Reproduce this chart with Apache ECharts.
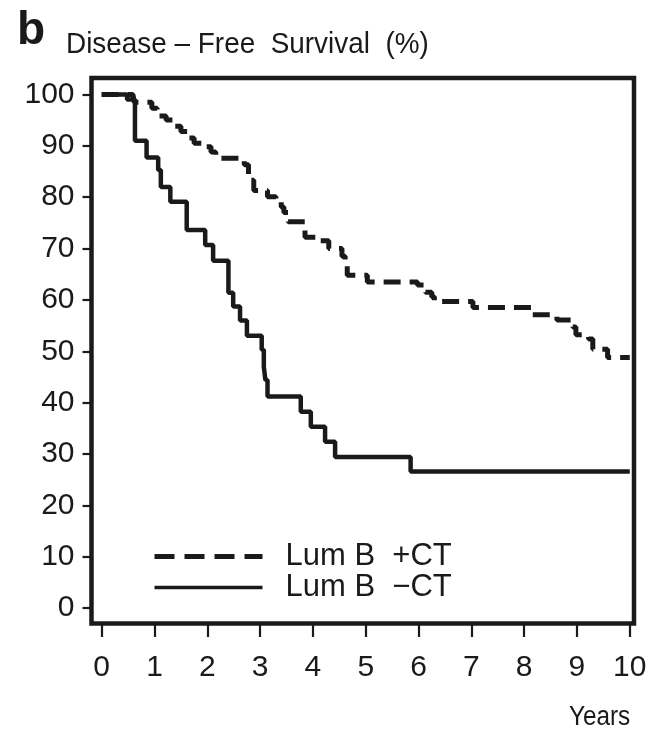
<!DOCTYPE html>
<html>
<head>
<meta charset="utf-8">
<script src="https://cdn.jsdelivr.net/npm/echarts@6/dist/echarts.min.js"></script>
<style>html,body{margin:0;padding:0;background:#fff}#c{width:650px;height:732px}</style>
</head>
<body>
<div id="c"></div>
<script>
// Kaplan-Meier: Lum B +CT (dashed)
var timesPlus = [0, 0.59, 0.62, 0.95, 1.05, 1.22, 1.38, 1.50, 1.62, 1.75, 1.90, 2.07, 2.16, 2.70, 2.78, 2.83, 2.88, 3.14, 3.30, 3.40, 3.45, 3.53, 3.85, 4.12, 4.30, 4.55, 4.61, 4.65, 5.03, 5.98, 6.13, 6.25, 6.30, 7.03, 8.14, 8.62, 8.92, 8.98, 9.22, 9.30, 9.58, 10];
var survPlus  = [100, 100, 98.5, 97.3, 95.8, 95.0, 93.8, 92.8, 91.5, 90.5, 89.8, 88.8, 87.6, 86.3, 84.5, 83.3, 81.3, 80.1, 79.0, 78.1, 77.0, 75.2, 72.2, 71.5, 70.0, 68.5, 66.8, 64.8, 63.5, 62.9, 61.5, 60.6, 59.7, 58.5, 57.1, 56.1, 54.7, 53.2, 52.4, 50.4, 48.8, 48.8];
// Lum B -CT (solid)
var timesMinus = [0, 0.48, 0.63, 0.85, 1.07, 1.12, 1.30, 1.61, 1.96, 2.11, 2.40, 2.49, 2.62, 2.75, 3.03, 3.07, 3.10, 3.14, 3.77, 3.96, 4.23, 4.42, 5.85, 10];
var survMinus  = [100, 99, 91, 87.7, 85.3, 82.0, 79.1, 73.6, 70.7, 67.6, 61.4, 58.7, 56.0, 53.0, 50.3, 47.0, 44.4, 41.2, 38.2, 35.3, 32.4, 29.4, 26.6, 26.6];
var seriesNames = ['Lum B  +CT', 'Lum B  \u2212CT'];
var xTicks = [0, 1, 2, 3, 4, 5, 6, 7, 8, 9, 10];
var yTicks = [0, 10, 20, 30, 40, 50, 60, 70, 80, 90, 100];

function pairs(t, v) { return t.map(function (x, i) { return [x, v[i]]; }); }

var FONT = "'Liberation Sans', Arial, Helvetica, sans-serif";
var INK = '#1a1a1a';
var chart = echarts.init(document.getElementById('c'), null, {renderer: 'canvas'});
chart.setOption({
  animation: false,
  backgroundColor: '#fff',
  textStyle: {fontFamily: FONT, color: INK},
  grid: {left: 91.5, right: 16, top: 78, bottom: 108.5, show: true, borderWidth: 4.5, borderColor: INK, backgroundColor: 'transparent'},
  xAxis: {
    type: 'value', min: -0.193, max: 10.08,
    axisLine: {show: false, onZero: false},
    splitLine: {show: false},
    axisTick: {show: true, customValues: xTicks, length: 13.5, lineStyle: {color: INK, width: 2.2}},
    axisLabel: {customValues: xTicks, fontSize: 30, margin: 29, color: INK, fontFamily: FONT}
  },
  yAxis: {
    type: 'value', min: -3, max: 103.2,
    axisLine: {show: false, onZero: false},
    splitLine: {show: false},
    axisTick: {show: true, customValues: yTicks, length: 9, lineStyle: {color: INK, width: 2.2}},
    axisLabel: {customValues: yTicks, fontSize: 30, margin: 17, color: INK, fontFamily: FONT}
  },
  legend: {
    orient: 'vertical', left: 147, top: 536, itemWidth: 108, itemHeight: 14, itemGap: 0,
    textStyle: {fontSize: 31, lineHeight: 29, color: INK, fontFamily: FONT, padding: [0, 0, 0, 18]},
    data: [
      {name: seriesNames[0], itemStyle: {opacity: 0}, lineStyle: {width: 5, type: [20, 10], color: INK}},
      {name: seriesNames[1], itemStyle: {opacity: 0}, lineStyle: {width: 3.5, type: 'solid', color: INK}}
    ]
  },
  series: [
    {name: seriesNames[0], type: 'line', step: 'end', symbol: 'none', data: pairs(timesPlus, survPlus),
     lineStyle: {color: INK, width: 5, type: [17, 9]}, itemStyle: {color: INK}},
    {name: seriesNames[1], type: 'line', step: 'end', symbol: 'none', data: pairs(timesMinus, survMinus),
     lineStyle: {color: INK, width: 4.5, type: 'solid'}, itemStyle: {color: INK}}
  ],
  graphic: [
    {type: 'text', x: 17, y: 8, style: {text: 'b', font: "bold 46px " + FONT, fill: INK}},
    {type: 'text', x: 66, y: 30, scaleX: 0.93, style: {text: 'Disease \u2013 Free  Survival  (%)', font: "30px " + FONT, fill: INK}},
    {type: 'text', x: 569, y: 704, scaleX: 0.9, style: {text: 'Years', font: "27px " + FONT, fill: INK}}
  ]
});
</script>
</body>
</html>
